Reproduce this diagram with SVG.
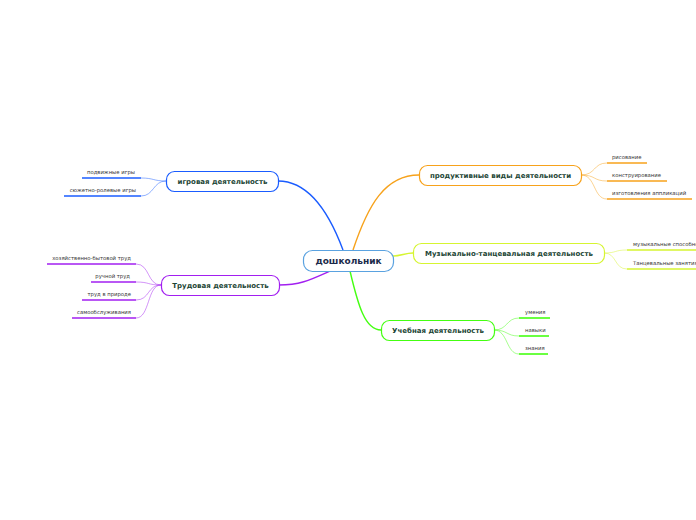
<svg xmlns="http://www.w3.org/2000/svg" width="696" height="520" viewBox="0 0 696 520">
<style>
.node{fill:#ffffff;stroke-width:1.2}
.nt{font-family:"DejaVu Sans","Liberation Sans",sans-serif;font-weight:bold;font-size:7px;fill:#1d4636;text-anchor:middle}
.ct{font-family:"DejaVu Sans","Liberation Sans",sans-serif;font-weight:bold;font-size:9px;fill:#1b2a4a;text-anchor:middle}
.lt{font-family:"DejaVu Sans","Liberation Sans",sans-serif;font-size:5.3px;fill:#333333}
.le{text-anchor:end}
.main{fill:none;stroke-width:1.4}
.sub{fill:none;stroke-width:0.8;opacity:0.6}
.ul{stroke-width:1.6}
</style>
<rect width="696" height="520" fill="#ffffff"/>
<g id="connectors">
<path class="main" stroke="#1a5cff" d="M278,181 C310,181 330,215 343,250"/>
<path class="main" stroke="#f7a21b" d="M353,250 C368,205 385,175 419,175"/>
<path class="main" stroke="#d6f531" d="M393,256 C401,256 405,253 413,253"/>
<path class="main" stroke="#a21ff0" d="M330,271 C310,280 300,285 279,285"/>
<path class="main" stroke="#44ff11" d="M350,271 C358,305 365,330 381,330"/>
<g stroke="#f7a21b">
<path class="sub" d="M581,175 C596,175 593,163 607,163"/>
<path class="sub" d="M581,175 C596,175 593,181 607,181"/>
<path class="sub" d="M581,175 C596,175 593,199 607,199"/>
</g>
<g stroke="#d6f531">
<path class="sub" d="M604,253 C617,253 614,250 627,250"/>
<path class="sub" d="M604,253 C617,253 614,269 627,269"/>
</g>
<g stroke="#44ff11">
<path class="sub" d="M494,330 C508,330 506,318 519,318"/>
<path class="sub" d="M494,330 C508,330 506,336 519,336"/>
<path class="sub" d="M494,330 C508,330 506,354 519,354"/>
</g>
<g stroke="#1a5cff">
<path class="sub" d="M166,181 C153,181 154,178 141,178"/>
<path class="sub" d="M166,181 C153,181 154,196 141,196"/>
</g>
<g stroke="#a21ff0">
<path class="sub" d="M161,285 C147,285 150,264 136,264"/>
<path class="sub" d="M161,285 C147,285 150,282 136,282"/>
<path class="sub" d="M161,285 C147,285 150,300 136,300"/>
<path class="sub" d="M161,285 C147,285 150,318 136,318"/>
</g>
</g>
<g id="center">
<rect class="node" x="303.5" y="250.5" width="90" height="21" rx="9" stroke="#5aa2e0"/>
<text class="ct" x="348.5" y="264.3">дошкольник</text>
</g>
<g id="productive">
<rect class="node" x="419.5" y="165.5" width="162" height="20" rx="8" stroke="#f7a21b"/>
<text class="nt" x="500.5" y="178">продуктивные виды деятельности</text>
</g>
<g id="productive-leaves">
<line class="ul" x1="607" y1="163" x2="647" y2="163" stroke="#f7a21b"/>
<text class="lt" x="612" y="159">рисование</text>
<line class="ul" x1="607" y1="181" x2="667" y2="181" stroke="#f7a21b"/>
<text class="lt" x="612" y="177">конструирование</text>
<line class="ul" x1="607" y1="199" x2="692" y2="199" stroke="#f7a21b"/>
<text class="lt" x="612" y="195">изготовления аппликаций</text>
</g>
<g id="music">
<rect class="node" x="413.5" y="243.5" width="191" height="20" rx="8" stroke="#d6f531"/>
<text class="nt" x="509" y="256">Музыкально-танцевальная деятельность</text>
</g>
<g id="music-leaves">
<line class="ul" x1="627" y1="250" x2="696" y2="250" stroke="#d6f531"/>
<text class="lt" x="633" y="246">музыкальные способности</text>
<line class="ul" x1="627" y1="269" x2="696" y2="269" stroke="#d6f531"/>
<text class="lt" x="633" y="264.5">Танцевальные занятия</text>
</g>
<g id="study">
<rect class="node" x="381.5" y="320.5" width="113" height="20" rx="8" stroke="#44ff11"/>
<text class="nt" x="438" y="333">Учебная деятельность</text>
</g>
<g id="study-leaves">
<line class="ul" x1="519" y1="318" x2="550" y2="318" stroke="#44ff11"/>
<text class="lt" x="525" y="314">умения</text>
<line class="ul" x1="519" y1="336" x2="549" y2="336" stroke="#44ff11"/>
<text class="lt" x="525" y="332">навыки</text>
<line class="ul" x1="519" y1="354" x2="548" y2="354" stroke="#44ff11"/>
<text class="lt" x="525" y="350">знания</text>
</g>
<g id="game">
<rect class="node" x="166.5" y="171.5" width="112" height="20" rx="8" stroke="#1a5cff"/>
<text class="nt" x="222.5" y="184">игровая деятельность</text>
</g>
<g id="game-leaves">
<line class="ul" x1="82" y1="178" x2="141" y2="178" stroke="#1a5cff"/>
<text class="lt le" x="135" y="174">подвижные игры</text>
<line class="ul" x1="64" y1="196" x2="141" y2="196" stroke="#1a5cff"/>
<text class="lt le" x="136" y="192">сюжетно-ролевые игры</text>
</g>
<g id="labour">
<rect class="node" x="161.5" y="275.5" width="118" height="20" rx="8" stroke="#a21ff0"/>
<text class="nt" x="220.5" y="288">Трудовая деятельность</text>
</g>
<g id="labour-leaves">
<line class="ul" x1="47" y1="264" x2="136" y2="264" stroke="#a21ff0"/>
<text class="lt le" x="131" y="260">хозяйственно-бытовой труд</text>
<line class="ul" x1="91" y1="282" x2="136" y2="282" stroke="#a21ff0"/>
<text class="lt le" x="130" y="278">ручной труд</text>
<line class="ul" x1="82" y1="300" x2="136" y2="300" stroke="#a21ff0"/>
<text class="lt le" x="131" y="296">труд в природе</text>
<line class="ul" x1="72" y1="318" x2="136" y2="318" stroke="#a21ff0"/>
<text class="lt le" x="131" y="314">самообслуживания</text>
</g>
</svg>
